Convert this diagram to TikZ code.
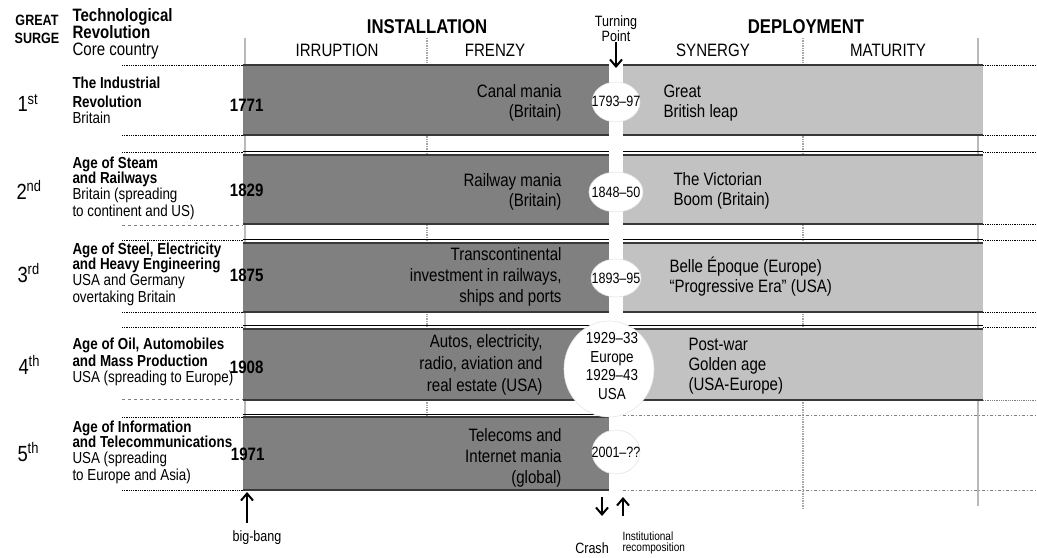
\documentclass[tikz,border=0pt]{standalone}
\usepackage{fontspec}
\setmainfont{Liberation Sans}[FakeStretch=0.84]
\usepackage{tikz}
\usetikzlibrary{arrows.meta}
\definecolor{installgray}{gray}{0.5}
\definecolor{deploygray}{gray}{0.76}
\definecolor{edgegray}{gray}{0.22}
\newcommand{\pxfont}[2]{\fontsize{#1}{#2}\selectfont}

\begin{document}
\begin{tikzpicture}[x=1bp, y=-1bp, line width=1bp,
  >={Straight Barb[length=7bp,width=12bp]},
  stagehead/.style={font=\bfseries\pxfont{20}{20}, inner sep=0},
  phase/.style={font=\pxfont{18}{18}, inner sep=0},
  surge/.style={font=\pxfont{22}{22}, anchor=west, inner sep=0},
  techno/.style={font=\pxfont{16}{16}, align=left, anchor=west, inner sep=0},
  yearlabel/.style={font=\bfseries\pxfont{18}{18}, anchor=east, inner sep=0},
  mania/.style={font=\pxfont{18}{20}, align=right, anchor=east, inner sep=0},
  golden/.style={font=\pxfont{18}{20}, align=left, anchor=west, inner sep=0},
  blob/.style={fill=white, draw=gray!20, line width=0.6bp},
  tpyear/.style={font=\pxfont{15}{18}, align=center, inner sep=0},
  foot/.style={font=\pxfont{15}{15}, inner sep=0},
  rowedge/.style={densely dotted, line width=0.8bp},
  arrowline/.style={->, line width=2bp}]

\useasboundingbox (0,0) rectangle (1037,558);

% header
\node [font=\bfseries\pxfont{15}{18}, align=center, inner sep=0] (great) at (37,29) {GREAT\\SURGE};
\node [font=\pxfont{18}{17}, align=left, anchor=west, inner sep=0] (techhead) at (72,34) {\textbf{Technological}\\\textbf{Revolution}\\Core country};
\node [stagehead] (install) at (427,27) {INSTALLATION};
\node [stagehead] (deploy) at (806,27) {DEPLOYMENT};
\node [phase] (irruption) at (337,50) {IRRUPTION};
\node [phase] (frenzy) at (495,50) {FRENZY};
\node [phase] (synergy) at (713,50) {SYNERGY};
\node [phase] (maturity) at (888,50) {MATURITY};
\node [font=\pxfont{15}{15}, align=center, inner sep=0] (tplabel) at (616,29) {Turning\\Point};

% frame
\draw [gray!55, line width=2bp] (245,38) -- (245,490);
\draw [gray!55, line width=2bp] (978,38) -- (978,506);
\draw [densely dotted, gray!70, line width=1.4bp] (427,38) -- (427,490);
\draw [densely dotted, gray!70, line width=1.4bp] (803,38) -- (803,508);

% bars
\fill [installgray] (243,65) rectangle (609,135);
\fill [deploygray] (623,65) rectangle (983,135);
\fill [installgray] (243,155) rectangle (609,224);
\fill [deploygray] (623,155) rectangle (983,224);
\fill [installgray] (243,243) rectangle (609,312);
\fill [deploygray] (623,243) rectangle (983,312);
\fill [installgray] (243,329) rectangle (609,400);
\fill [deploygray] (623,329) rectangle (983,400);
\fill [installgray] (243,417) rectangle (609,490);

\draw [edgegray, line width=1.5bp] (243,65) -- (609,65) (623,65) -- (983,65) (243,135) -- (609,135) (623,135) -- (983,135);
\draw [edgegray, line width=1.5bp] (243,155) -- (609,155) (623,155) -- (983,155) (243,224) -- (609,224) (623,224) -- (983,224);
\draw [edgegray, line width=1.5bp] (243,243) -- (609,243) (623,243) -- (983,243) (243,312) -- (609,312) (623,312) -- (983,312);
\draw [edgegray, line width=1.5bp] (243,329) -- (609,329) (623,329) -- (983,329) (243,400) -- (609,400) (623,400) -- (983,400);
\draw [edgegray, line width=1.5bp] (243,417) -- (609,417) (243,490) -- (609,490);
\draw [black] (243,152) -- (609,152) (623,152) -- (983,152);
\draw [black] (243,240) -- (609,240) (623,240) -- (983,240);
\draw [black] (243,326) -- (609,326) (623,326) -- (983,326);
\draw [black] (243,414) -- (609,414);

% row edges outside the frame
\draw [rowedge] (122,65) -- (243,65) (983,65) -- (1037,65);
\draw [rowedge] (122,135) -- (243,135) (983,135) -- (1037,135);
\draw [rowedge] (122,152) -- (243,152) (983,152) -- (1037,152);
\draw [rowedge, gray, dashed] (122,225) -- (243,225);
\draw [rowedge] (983,224) -- (1037,224);
\draw [rowedge] (122,240) -- (243,240) (983,240) -- (1037,240);
\draw [rowedge] (122,312) -- (243,312) (983,312) -- (1037,312);
\draw [rowedge] (122,327) -- (243,327) (983,327) -- (1037,327);
\draw [rowedge, gray, dashed] (122,399) -- (243,399);
\draw [rowedge, gray] (983,400) -- (1037,400);
\draw [rowedge] (122,417) -- (243,417) (122,490) -- (243,490);
\draw [dashdotted, gray, line width=0.8bp] (623,415) -- (1037,415) (623,490) -- (1037,490);

% great surges
\node [surge] (s1) at (17,103) {1\textsuperscript{st}};
\node [surge] (s2) at (16,190) {2\textsuperscript{nd}};
\node [surge] (s3) at (17,273) {3\textsuperscript{rd}};
\node [surge] (s4) at (18,365) {4\textsuperscript{th}};
\node [surge] (s5) at (17,452) {5\textsuperscript{th}};

\node [techno] (t1) at (72,100) {\textbf{The Industrial}\\[3bp]\textbf{Revolution}\\Britain};
\node [techno] (t2) at (72,188) {\textbf{Age of Steam}\\[-1bp]\textbf{and Railways}\\Britain (spreading\\[1bp]to continent and US)};
\node [techno] (t3) at (72,274) {\textbf{Age of Steel, Electricity}\\[-1bp]\textbf{and Heavy Engineering}\\USA and Germany\\[1bp]overtaking Britain};
\node [techno] (t4) at (72,362) {\textbf{Age of Oil, Automobiles}\\[1bp]\textbf{and Mass Production}\\USA (spreading to Europe)};
\node [techno] (t5) at (72,452) {\textbf{Age of Information}\\[-1bp]\textbf{and Telecommunications}\\USA (spreading\\[1bp]to Europe and Asia)};

\node [yearlabel] (y1) at (264,105) {1771};
\node [yearlabel] (y2) at (264,190) {1829};
\node [yearlabel] (y3) at (264,275) {1875};
\node [yearlabel] (y4) at (264,367) {1908};
\node [yearlabel] (y5) at (265,454) {1971};

% installation texts
\node [mania] (m1) at (562,103) {Canal mania\\(Britain)};
\node [mania] (m2) at (562,192) {Railway mania\\(Britain)};
\node [mania, font=\pxfont{18}{21}] (m3) at (562,277) {Transcontinental\\investment in railways,\\ships and ports};
\node [mania, font=\pxfont{18}{22}] (m4) at (543,365) {Autos, electricity,\\radio, aviation and\\real estate (USA)};
\node [mania, font=\pxfont{18}{21}] (m5) at (562,458) {Telecoms and\\Internet mania\\(global)};

% deployment texts
\node [golden] (g1) at (663,103) {Great\\British leap};
\node [golden] (g2) at (673,191) {The Victorian\\Boom (Britain)};
\node [golden] (g3) at (669,277) {Belle Époque (Europe)\\“Progressive Era” (USA)};
\node [golden] (g4) at (688,366) {Post-war\\Golden age\\(USA-Europe)};

% turning points
\draw [blob] (616,102) ellipse [x radius=24, y radius=20];
\draw [blob] (616,192) ellipse [x radius=27, y radius=20];
\draw [blob] (616,278) ellipse [x radius=25, y radius=19];
\draw [blob] (609,369) ellipse [x radius=45, y radius=48];
\draw [blob] (616,452) ellipse [x radius=24, y radius=22];
\node [tpyear] (tp1) at (616,101) {1793--97};
\node [tpyear] (tp2) at (616,192) {1848--50};
\node [tpyear] (tp3) at (616,278) {1893--95};
\node [tpyear, font=\pxfont{16}{18.5}] (tp4) at (612,366) {1929--33\\Europe\\1929--43\\USA};
\node [tpyear] (tp5) at (616,452) {2001--??};

% arrows
\coordinate (tpfoot) at (616,68);
\draw [arrowline] (tplabel.south) -- (tpfoot);
\coordinate (bbtail) at (247,523);
\coordinate (bbtip) at (247,492);
\draw [arrowline] (bbtail) -- (bbtip);
\coordinate (crtop) at (602,497);
\coordinate (crbot) at (602,516);
\draw [arrowline] (crtop) -- (crbot);
\coordinate (irbot) at (623,516);
\coordinate (irtop) at (623,497);
\draw [arrowline] (irbot) -- (irtop);
\node [foot] (bigbang) at (257,538) {big-bang};
\node [foot] (crash) at (592,548) {Crash};
\node [font=\pxfont{12}{11}, align=left, anchor=west, inner sep=0] (recomp) at (622,543) {Institutional\\recomposition};
\end{tikzpicture}
\end{document}
